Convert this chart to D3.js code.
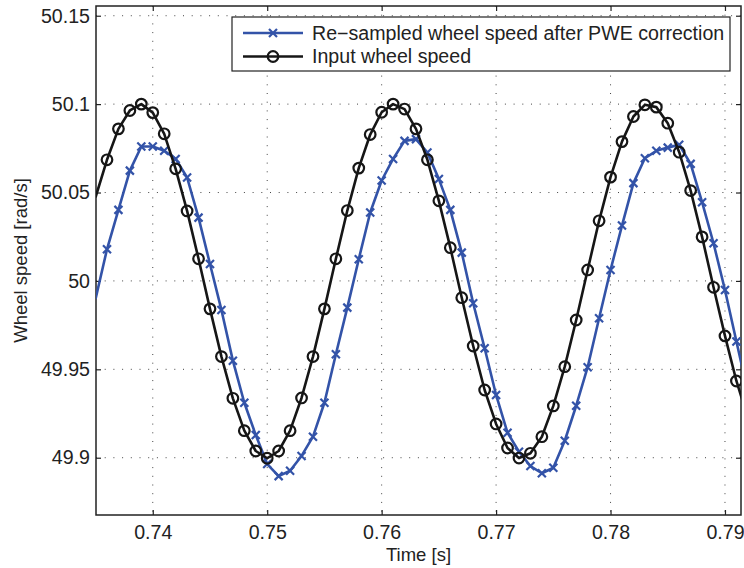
<!DOCTYPE html>
<html>
<head>
<meta charset="utf-8">
<script src="https://cdn.jsdelivr.net/npm/d3@7"></script>
<style>
  body { margin: 0; background: #fff; }
  text { font-family: "Liberation Sans", Arial, sans-serif; fill: #222; }
</style>
</head>
<body>
<div id="chart-area"></div>
<script>
const MARGIN = { LEFT: 96, RIGHT: 3, TOP: 6, BOTTOM: 53 }
const WIDTH = 744 - MARGIN.LEFT - MARGIN.RIGHT
const HEIGHT = 568 - MARGIN.TOP - MARGIN.BOTTOM

// Data, time in s, speed in rad/s
const time = [0.735, 0.736, 0.737, 0.738, 0.739, 0.740, 0.741, 0.742, 0.743, 0.744,
    0.745, 0.746, 0.747, 0.748, 0.749, 0.750, 0.751, 0.752, 0.753, 0.754,
    0.755, 0.756, 0.757, 0.758, 0.759, 0.760, 0.761, 0.762, 0.763, 0.764,
    0.765, 0.766, 0.767, 0.768, 0.769, 0.770, 0.771, 0.772, 0.773, 0.774,
    0.775, 0.776, 0.777, 0.778, 0.779, 0.780, 0.781, 0.782, 0.783, 0.784,
    0.785, 0.786, 0.787, 0.788, 0.789, 0.790, 0.791, 0.792]

const inputSpeed = [50.0473, 50.0685, 50.0860, 50.0964, 50.1000, 50.0952, 50.0832, 50.0634, 50.0396, 50.0125,
    49.9842, 49.9572, 49.9336, 49.9153, 49.9038, 49.8997, 49.9038, 49.9153, 49.9338, 49.9572,
    49.9842, 50.0125, 50.0398, 50.0638, 50.0828, 50.0954, 50.1000, 50.0972, 50.0860, 50.0685,
    50.0453, 50.0188, 49.9905, 49.9632, 49.9383, 49.9191, 49.9055, 49.8998, 49.9025, 49.9119,
    49.9293, 49.9515, 49.9779, 50.0062, 50.0340, 50.0587, 50.0788, 50.0930, 50.0996, 50.0983,
    50.0892, 50.0728, 50.0511, 50.0249, 49.9964, 49.9689, 49.9434, 49.9225]

const resampledSpeed = [49.9898, 50.0179, 50.0402, 50.0624, 50.0760, 50.0760, 50.0736, 50.0690, 50.0585, 50.0358,
    50.0096, 49.9836, 49.9549, 49.9311, 49.9128, 49.8964, 49.8896, 49.8926, 49.9010, 49.9119,
    49.9311, 49.9585, 49.9849, 50.0123, 50.0387, 50.0568, 50.0690, 50.0792, 50.0802, 50.0726,
    50.0576, 50.0402, 50.0160, 49.9874, 49.9619, 49.9355, 49.9141, 49.9034, 49.8953, 49.8912,
    49.8943, 49.9096, 49.9294, 49.9512, 49.9789, 50.0062, 50.0313, 50.0553, 50.0694, 50.0736,
    50.0754, 50.0770, 50.0662, 50.0445, 50.0213, 49.9949, 49.9657, 49.9370]

const xTicks = [0.74, 0.75, 0.76, 0.77, 0.78, 0.79]
const yTicks = [49.9, 49.95, 50, 50.05, 50.1, 50.15]
const legendLabels = ["Re\u2212sampled wheel speed after PWE correction", "Input wheel speed"]

const BLUE = "#3353a8"
const BLACK = "#161616"
const FONT = "19.6px"

const svg = d3.select("#chart-area").append("svg")
    .attr("width", 744)
    .attr("height", 568)

const g = svg.append("g")
    .attr("transform", `translate(${MARGIN.LEFT}, ${MARGIN.TOP})`)

// Scales
const x = d3.scaleLinear()
    .range([0, WIDTH])
    .domain([0.73504, 0.7914])

const y = d3.scaleLinear()
    .range([HEIGHT, 0])
    .domain([49.8676, 50.1555])

const fmt = d => String(+d.toFixed(2))

// Grid
g.append("g").selectAll("line").data(xTicks).enter().append("line")
    .attr("x1", d => x(d)).attr("x2", d => x(d))
    .attr("y1", 0).attr("y2", HEIGHT)
    .attr("stroke", "#444").attr("stroke-width", 1)
    .attr("stroke-dasharray", "1,7.7")
g.append("g").selectAll("line").data(yTicks).enter().append("line")
    .attr("y1", d => y(d)).attr("y2", d => y(d))
    .attr("x1", 0).attr("x2", WIDTH)
    .attr("stroke", "#444").attr("stroke-width", 1)
    .attr("stroke-dasharray", "1,7.7")

// Axes (MATLAB box with inward ticks)
const styleAxis = sel => {
    sel.select(".domain").remove()
    sel.selectAll(".tick line").attr("stroke", "#222").attr("stroke-width", 1.2)
    sel.selectAll(".tick text").style("font-size", FONT).attr("fill", "#222")
}
g.append("g").attr("transform", `translate(0, ${HEIGHT})`)
    .call(d3.axisBottom(x).tickValues(xTicks).tickFormat(fmt).tickSizeInner(-5).tickSizeOuter(0).tickPadding(10.5))
    .call(styleAxis)
g.append("g")
    .call(d3.axisTop(x).tickValues(xTicks).tickFormat("").tickSizeInner(-5).tickSizeOuter(0))
    .call(styleAxis)
g.append("g")
    .call(d3.axisLeft(y).tickValues(yTicks).tickFormat(fmt).tickSizeInner(-5).tickSizeOuter(0).tickPadding(6))
    .call(styleAxis)
g.append("g").attr("transform", `translate(${WIDTH}, 0)`)
    .call(d3.axisRight(y).tickValues(yTicks).tickFormat("").tickSizeInner(-5).tickSizeOuter(0))
    .call(styleAxis)

g.append("rect")
    .attr("width", WIDTH).attr("height", HEIGHT)
    .attr("fill", "none").attr("stroke", "#222").attr("stroke-width", 1.5)

// Labels
g.append("text")
    .attr("x", WIDTH / 2).attr("y", HEIGHT + 46)
    .attr("font-size", "18.5px").attr("text-anchor", "middle")
    .text("Time [s]")
g.append("text")
    .attr("transform", "rotate(-90)")
    .attr("x", -HEIGHT / 2).attr("y", -69)
    .attr("font-size", "18.5px").attr("text-anchor", "middle")
    .text("Wheel speed [rad/s]")

// Series
g.append("clipPath").attr("id", "plot-clip")
    .append("rect").attr("width", WIDTH).attr("height", HEIGHT)

const plot = g.append("g").attr("clip-path", "url(#plot-clip)")

const line = d3.line().x(d => x(d[0])).y(d => y(d[1]))
const blueData = d3.zip(time, resampledSpeed)
const blackData = d3.zip(time, inputSpeed)
const inDomain = d => d[0] >= x.domain()[0] && d[0] <= x.domain()[1]

const cross = (sel, cx, cy) => sel.append("path")
    .attr("d", `M${cx - 4},${cy - 4}L${cx + 4},${cy + 4}M${cx - 4},${cy + 4}L${cx + 4},${cy - 4}`)
    .attr("stroke", BLUE).attr("stroke-width", 2.2).attr("fill", "none")

plot.append("path").datum(blueData)
    .attr("d", line).attr("fill", "none")
    .attr("stroke", BLUE).attr("stroke-width", 2.6).attr("stroke-linejoin", "round")
blueData.filter(inDomain).forEach(d => cross(plot, x(d[0]), y(d[1])))

plot.append("path").datum(blackData)
    .attr("d", line).attr("fill", "none")
    .attr("stroke", BLACK).attr("stroke-width", 2.6).attr("stroke-linejoin", "round")
plot.selectAll(".input").data(blackData.filter(inDomain)).enter().append("circle")
    .attr("class", "input")
    .attr("cx", d => x(d[0])).attr("cy", d => y(d[1]))
    .attr("r", 5.3)
    .attr("fill", "none").attr("stroke", BLACK).attr("stroke-width", 2.2)

// Legend
const legend = svg.append("g").attr("transform", "translate(232, 17)")
legend.append("rect")
    .attr("width", 498).attr("height", 54)
    .attr("fill", "#fff").attr("stroke", "#222").attr("stroke-width", 1.2)
legendLabels.forEach((label, i) => {
    const ly = 16 + i * 23.5
    const col = i === 0 ? BLUE : BLACK
    legend.append("line")
        .attr("x1", 11).attr("x2", 71).attr("y1", ly).attr("y2", ly)
        .attr("stroke", col).attr("stroke-width", 2.6)
    if (i === 0) cross(legend, 41, ly)
    else legend.append("circle").attr("cx", 41).attr("cy", ly).attr("r", 5.3)
        .attr("fill", "none").attr("stroke", BLACK).attr("stroke-width", 2.2)
    legend.append("text")
        .attr("x", 80).attr("y", ly).attr("dy", "0.35em")
        .attr("font-size", FONT)
        .text(label)
})
</script>
</body>
</html>
